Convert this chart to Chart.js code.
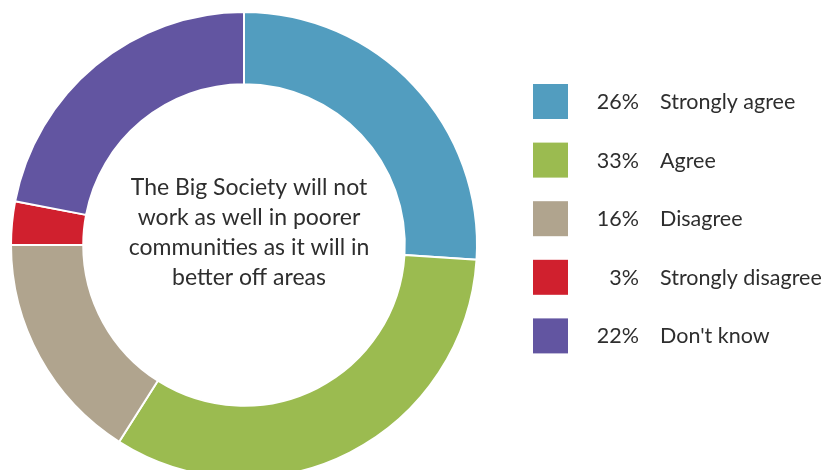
<!DOCTYPE html>
<html>
<head>
<meta charset="utf-8">
<script src="https://cdn.jsdelivr.net/npm/chart.js@4/dist/chart.umd.min.js"></script>
<style>
  html, body { margin: 0; padding: 0; background: #fff; overflow: hidden; }
  #wrap { position: relative; width: 824px; height: 480px; }
</style>
</head>
<body>
<div id="wrap"><canvas id="donut"></canvas></div>
<script>
const labels = ['Strongly agree', 'Agree', 'Disagree', 'Strongly disagree', "Don't know"];
const values = [26, 33, 16, 3, 22];
const colours = ['#529dbf', '#9bbb50', '#b0a48e', '#d0202e', '#6255a1'];
const centreLines = ['The Big Society will not', 'work as well in poorer', 'communities as it will in', 'better off areas'];

const textFont = '"Lato", "Open Sans", sans-serif';

// question in the hole of the ring
const centreText = {
    id: 'centreText',
    afterDraw(chart) {
        const ctx = chart.ctx;
        const arc = chart.getDatasetMeta(0).data[0];
        ctx.save();
        ctx.fillStyle = '#2e2e2e';
        ctx.font = '23px ' + textFont;
        ctx.textAlign = 'center';
        ctx.textBaseline = 'alphabetic';
        centreLines.forEach(function (line, i) {
            ctx.fillText(line, arc.x + 5, 195 + i * 30);
        });
        ctx.restore();
    }
};

// legend on the right: swatch, value, label
const sideLegend = {
    id: 'sideLegend',
    afterDraw(chart) {
        const ctx = chart.ctx;
        ctx.save();
        ctx.font = '21.5px ' + textFont;
        ctx.textBaseline = 'middle';
        labels.forEach(function (label, i) {
            const top = 84 + i * 58.6;
            ctx.fillStyle = colours[i];
            ctx.fillRect(533, top, 35, 35);
            ctx.fillStyle = '#2e2e2e';
            ctx.textAlign = 'right';
            ctx.fillText(values[i] + '%', 639, top + 18);
            ctx.textAlign = 'left';
            ctx.fillText(label, 660, top + 18);
        });
        ctx.restore();
    }
};

new Chart(document.getElementById('donut'), {
    type: 'doughnut',
    data: {
        labels: labels,
        datasets: [{
            data: values,
            backgroundColor: colours,
            borderColor: '#ffffff',
            borderWidth: 2
        }]
    },
    options: {
        responsive: true,
        maintainAspectRatio: false,
        animation: false,
        cutout: '69%',
        layout: {
            padding: { left: 10, top: 11, right: 346, bottom: 1 }
        },
        plugins: {
            legend: { display: false },
            tooltip: { enabled: false }
        }
    },
    plugins: [centreText, sideLegend]
});
</script>
</body>
</html>
